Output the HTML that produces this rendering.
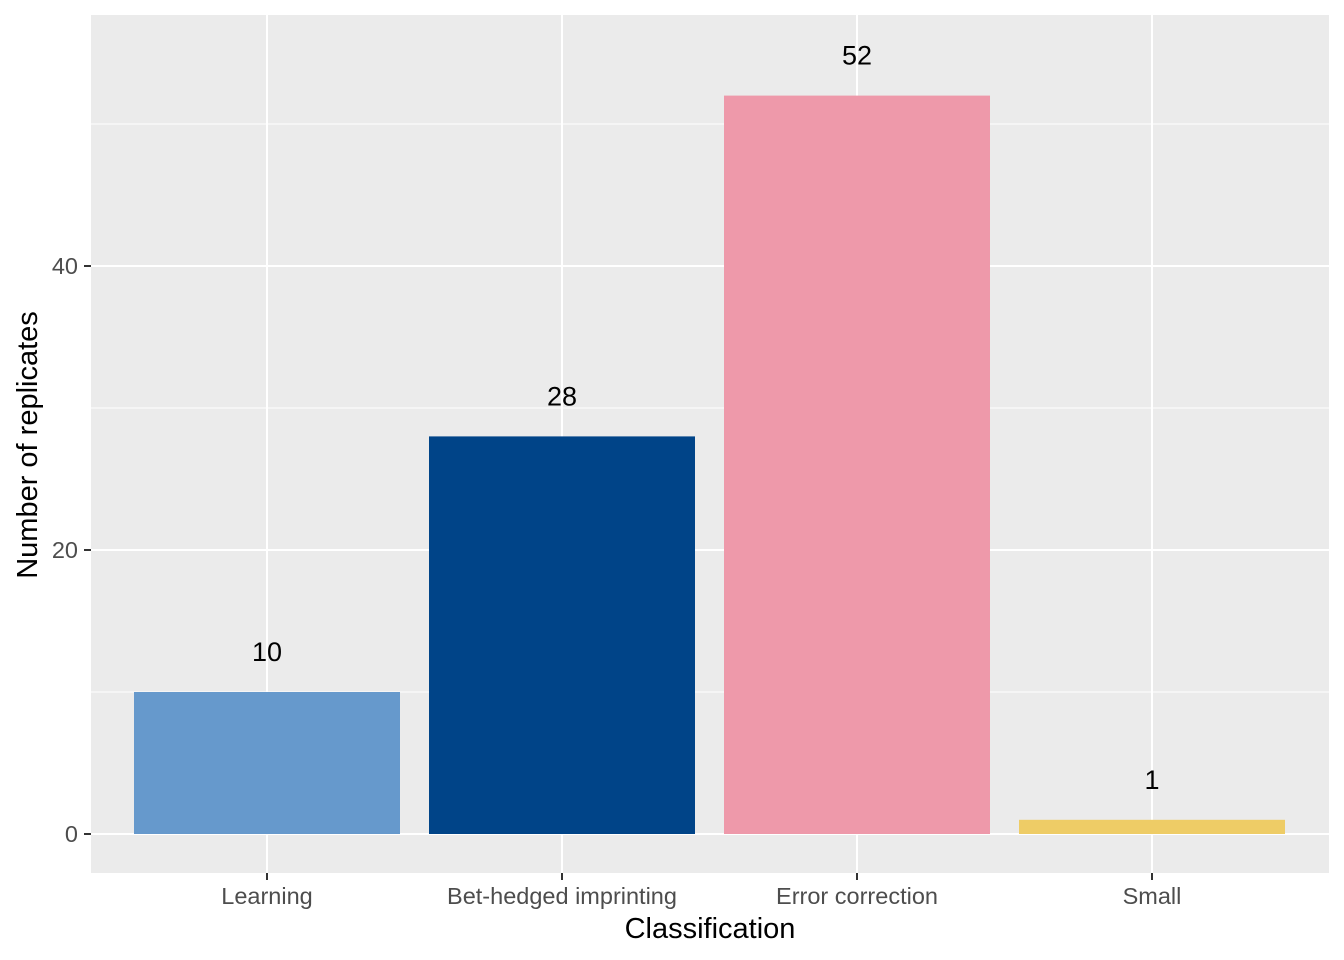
<!DOCTYPE html>
<html><head><meta charset="utf-8"><style>
body{margin:0;background:#fff}
svg{display:block;font-family:"Liberation Sans",sans-serif}
</style></head><body>
<svg id="chart" width="1344" height="960">
<rect x="91" y="15" width="1238" height="858" fill="#EBEBEB"/>
<g id="grid"></g><g id="bars"></g><g id="axes"></g>
<text x="710" y="938" text-anchor="middle" font-size="29" fill="#000">Classification</text>
<text transform="translate(37,445) rotate(-90)" text-anchor="middle" font-size="29" fill="#000">Number of replicates</text>
</svg>
<script>
const categories=["Learning","Bet-hedged imprinting","Error correction","Small"];
const values=[10,28,52,1];
const colors=["#6699CC","#004488","#EE99AA","#EECC66"];
const yTicks=[0,20,40];
const yMinor=[10,30,50];
const ns="http://www.w3.org/2000/svg";
const y=v=>834-v*14.2;
const x=i=>267+i*295;
function mk(tag,attrs,parent,text){const e=document.createElementNS(ns,tag);for(const k in attrs)e.setAttribute(k,attrs[k]);if(text!==undefined)e.textContent=text;document.getElementById(parent).appendChild(e);return e;}
yMinor.forEach(v=>{const e=mk("line",{x1:91,x2:1329,y1:y(v),y2:y(v),stroke:"#fff","stroke-width":1},"grid");

});
yTicks.forEach(v=>{const e=mk("line",{x1:91,x2:1329,y1:y(v),y2:y(v),stroke:"#fff","stroke-width":2},"grid");


const t=mk("line",{x1:84,x2:91,y1:y(v),y2:y(v),stroke:"#333","stroke-width":2},"axes");


const l=mk("text",{x:78,y:y(v)+8,"text-anchor":"end","font-size":23.5,fill:"#4D4D4D"},"axes",v);

});
categories.forEach((c,i)=>{const g=mk("line",{x1:x(i),x2:x(i),y1:15,y2:873,stroke:"#fff","stroke-width":2},"grid");


const b=mk("rect",{x:x(i)-133,width:266,y:y(values[i]),height:values[i]*14.2,fill:colors[i]},"bars");


const v=mk("text",{x:x(i),y:y(values[i])-31,"text-anchor":"middle","font-size":27,fill:"#000"},"bars",values[i]);


const t=mk("line",{x1:x(i),x2:x(i),y1:873,y2:880,stroke:"#333","stroke-width":2},"axes");


const l=mk("text",{x:x(i),y:904,"text-anchor":"middle","font-size":23.5,fill:"#4D4D4D"},"axes",c);

});
</script>
</body></html>
